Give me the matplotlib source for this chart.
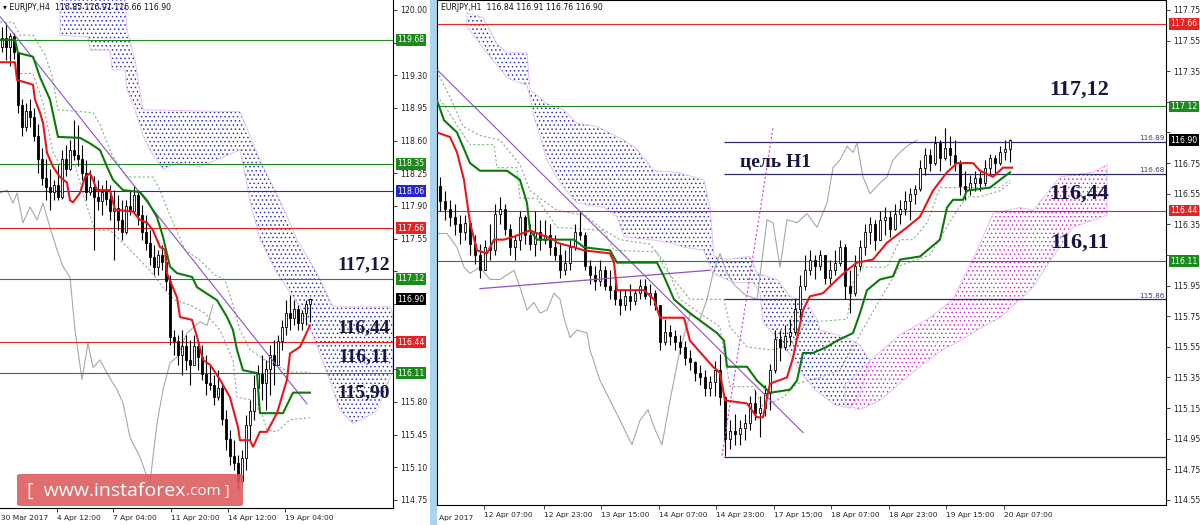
import matplotlib
matplotlib.use("Agg")
import matplotlib.pyplot as plt
import matplotlib.transforms as mtransforms
from matplotlib.patches import Rectangle, FancyBboxPatch

plt.rcParams['font.family'] = ['DejaVu Sans']
plt.rcParams['hatch.linewidth'] = 0.55

# ---------------- EURJPY H4 (left) ----------------
h4_first_open = 119.60
h4_high = [119.82, 119.86, 119.75, 119.75, 119.55, 119.05, 119.00, 119.05, 118.95, 118.78,
           118.52, 118.40, 118.30, 118.18, 118.34, 118.50, 118.55, 118.61, 118.82, 118.77,
           118.55, 118.39, 118.29, 118.22, 118.18, 118.12, 118.18, 118.12, 118.07, 118.02,
           117.96, 117.96, 118.07, 118.12, 118.07, 117.91, 117.80, 117.64, 117.48, 117.43,
           117.48, 117.37, 117.16, 116.57, 116.52, 116.57, 116.52, 116.46, 116.52, 116.46,
           116.41, 116.30, 116.20, 116.09, 116.14, 115.98, 115.71, 115.50, 115.39, 115.23,
           115.29, 115.66, 115.82, 116.09, 116.20, 116.30, 116.25, 116.41, 116.46, 116.52,
           116.68, 116.89, 116.95, 116.89, 116.84, 116.79, 116.89, 116.91]
h4_low = [119.55, 119.46, 119.40, 119.48, 118.90, 118.65, 118.70, 118.75, 118.60, 118.25,
          118.12, 117.96, 117.86, 117.96, 117.96, 117.98, 118.22, 118.29, 118.39, 118.33,
          118.18, 117.96, 118.02, 117.43, 117.86, 117.80, 117.91, 117.75, 117.32, 117.64,
          117.54, 117.60, 117.80, 117.82, 117.70, 117.54, 117.43, 117.27, 117.16, 117.16,
          117.21, 117.00, 116.41, 116.30, 116.20, 116.09, 116.14, 115.98, 116.20, 116.14,
          116.04, 115.88, 115.93, 115.77, 115.82, 115.55, 115.29, 115.12, 115.07, 114.86,
          114.92, 115.07, 115.39, 115.61, 115.77, 115.82, 115.71, 115.88, 115.98, 116.20,
          116.36, 116.52, 116.57, 116.63, 116.57, 116.57, 116.63, 116.66]
h4_close = [119.70, 119.60, 119.72, 119.55, 118.98, 118.75, 118.92, 118.85, 118.65, 118.40,
            118.20, 118.10, 118.05, 118.12, 118.00, 118.40, 118.30, 118.50, 118.45, 118.40,
            118.25, 118.05, 118.10, 118.00, 117.95, 118.05, 117.98, 117.85, 117.88, 117.75,
            117.62, 117.90, 117.85, 118.02, 117.80, 117.62, 117.50, 117.35, 117.25, 117.38,
            117.30, 117.10, 116.50, 116.45, 116.30, 116.40, 116.25, 116.20, 116.40, 116.28,
            116.10, 116.00, 115.98, 115.85, 115.95, 115.62, 115.40, 115.22, 115.15, 114.95,
            115.20, 115.55, 115.70, 115.95, 116.10, 116.00, 116.15, 116.30, 116.20, 116.45,
            116.60, 116.75, 116.70, 116.80, 116.65, 116.75, 116.85, 116.90]

h4_tenkan_x = [-0.5, 3.25, 3.75, 7.75, 8.25, 9.5, 10.25, 11.25, 12.75, 14.5, 16.25, 17, 17.75, 19.5,
               20.75, 22, 22.75, 23.75, 27, 28.25, 32.75, 34.5, 36.25, 37.75, 39.5, 40.75, 41.25,
               43.75, 44.5, 47.5, 48.75, 50.25, 52, 54.5, 57, 59, 59.5, 62, 62.75, 64.5, 66.25,
               68.75, 71.25, 72, 74.5, 77]
h4_tenkan_y = [119.44, 119.44, 119.25, 119.20, 119.04, 118.90, 118.79, 118.47, 118.32, 118.21,
               118.15, 117.96, 117.94, 118.04, 118.21, 118.25, 118.18, 118.07, 118.07, 117.86,
               117.84, 117.75, 117.72, 117.64, 117.46, 117.43, 117.18, 116.92, 116.71, 116.68,
               116.50, 116.25, 116.20, 116.04, 115.85, 115.53, 115.39, 115.39, 115.32, 115.48,
               115.48, 115.68, 116.04, 116.32, 116.39, 116.62]
h4_kijun_x = [-0.5, 3.25, 4, 7.75, 9.5, 12, 14, 19.5, 22, 24.5, 26.25, 27.75, 30.25, 34.5, 36.25,
              38.75, 40.25, 42, 43.75, 47.5, 48.75, 53.75, 56.25, 57.75, 58.75, 60.25, 63.75, 64,
              64.5, 70.25, 72.75, 77]
h4_kijun_y = [119.68, 119.68, 119.54, 119.50, 119.28, 119.04, 118.64, 118.63, 118.57, 118.50,
              118.32, 118.18, 118.07, 118.05, 117.96, 117.78, 117.57, 117.25, 117.18, 117.14,
              117.03, 116.89, 116.71, 116.57, 116.36, 116.14, 116.11, 115.96, 115.68, 115.68,
              115.90, 115.90]
h4_chikou_x = [-0.5, 1.25, 2.75, 3.75, 5.25, 7, 8.75, 10.25, 12, 13.75, 15.25, 17, 18.25, 20, 21.5,
               22.75, 24.5, 26.25, 28.75, 30.25, 32, 34.5, 36.25, 37, 37.75, 38.75, 40.25, 42,
               43.75, 46.25, 49.5, 51.25, 52.75]
h4_chikou_y = [118.04, 118.07, 117.93, 118.04, 117.72, 117.89, 117.75, 117.93, 117.67, 117.43,
               117.25, 117.14, 116.57, 116.04, 116.43, 116.17, 116.25, 116.11, 115.93, 115.79,
               115.42, 115.21, 115.00, 114.94, 115.21, 115.57, 115.93, 116.22, 116.28, 116.54,
               116.66, 116.62, 116.84]
h4_dash_a_x = [-0.5, 2.75, 4.5, 7.75, 10.75, 12.5, 14, 22.75, 24.5, 27.5, 31.25, 37.75, 39.5, 42,
               45.75, 49.5, 53.25, 55.75, 57.75, 59.5, 62, 65.75, 72, 77]
h4_dash_a_y = [119.87, 119.87, 119.73, 119.73, 119.52, 119.30, 118.93, 118.90, 118.77, 118.45,
               118.21, 118.21, 118.07, 117.80, 117.43, 117.32, 117.16, 117.11, 116.84, 116.57,
               116.36, 116.25, 116.12, 116.12]
h4_dash_b_x = [4.5, 7.75, 10.25, 12.75, 14.5, 18.25, 20.75, 23.25, 27, 32, 37, 40.75, 43.25, 47,
               50.75, 54.5, 57.75, 58.75, 62.75, 65.25, 66.25, 68.75, 72, 77]
h4_dash_b_y = [119.32, 119.32, 119.00, 118.47, 118.34, 118.34, 117.96, 117.64, 117.64, 117.43,
               117.21, 117.00, 116.89, 116.84, 116.75, 116.57, 116.25, 115.85, 115.82, 115.64,
               115.50, 115.48, 115.61, 115.63]
h4_trend_x = [-0.5, 76.25]
h4_trend_y = [119.93, 115.78]
h4_kumo_top_x = [14.5, 30.75, 31.25, 33.25, 35.25, 59.5, 64.5, 69.5, 73.75, 78.75, 82.75, 97, 97.75]
h4_kumo_top_y = [120.16, 120.16, 119.79, 119.46, 118.93, 118.91, 118.39, 117.96, 117.54, 117.18,
                 116.82, 116.82, 116.73]
h4_kumo_bot_x = [14.5, 21.5, 22, 27, 27.5, 30.75, 31.25, 33.25, 35.25, 37, 40.25, 43.75, 49.5,
                 59.5, 62, 64.5, 68.75, 74.5, 78.25, 81.25, 84.5, 87.75, 90.75, 93.75, 97.75]
h4_kumo_bot_y = [119.73, 119.71, 119.57, 119.57, 119.36, 119.36, 119.14, 118.93, 118.66, 118.50,
                 118.29, 118.36, 118.32, 118.50, 117.96, 117.54, 117.18, 116.82, 116.46, 116.11,
                 115.71, 115.57, 115.63, 115.71, 116.14]
h4_levels = [119.68, 118.35, 118.06, 117.66, 117.12, 116.44, 116.11]
h4_level_colors = ['green', 'green', 'blue', 'red', 'green', 'red', 'green']
h4_yticks = [120.00, 119.65, 119.30, 118.95, 118.60, 118.25, 117.90, 117.55, 117.20, 116.85,
             116.50, 116.15, 115.80, 115.45, 115.10, 114.75]
h4_hidden_ticks = [119.65, 117.20, 116.85, 116.50, 116.15]
h4_xtick_pos = [13.75, 27.75, 42.25, 56.5, 70.75]
h4_xtick_lab = ['4 Apr 12:00', '7 Apr 04:00', '11 Apr 20:00', '14 Apr 12:00', '19 Apr 04:00']
h4_notes = ['117,12', '116,44', '116,11', '115,90']
h4_note_y = [117.27, 116.60, 116.29, 115.90]

# ---------------- EURJPY H1 (right) ----------------
h1_first_open = 116.60
h1_high = [116.66, 116.57, 116.51, 116.48, 116.41, 116.41, 116.35, 116.28, 116.22, 116.25,
           116.35, 116.48, 116.53, 116.48, 116.35, 116.28, 116.44, 116.41, 116.35, 116.44,
           116.38, 116.38, 116.35, 116.28, 116.22, 116.18, 116.25, 116.35, 116.44, 116.30,
           116.12, 116.08, 116.12, 116.08, 116.05, 115.99, 115.92, 115.92, 115.96, 115.92,
           115.99, 115.99, 115.96, 115.92, 115.82, 115.73, 115.69, 115.66, 115.63, 115.59,
           115.53, 115.46, 115.43, 115.40, 115.36, 115.46, 115.50, 115.23, 115.07, 115.11,
           115.07, 115.11, 115.23, 115.27, 115.23, 115.30, 115.44, 115.66, 115.66, 115.69,
           115.73, 115.86, 116.02, 116.15, 116.18, 116.15, 116.18, 116.15, 116.12, 116.18,
           116.25, 116.22, 116.05, 116.15, 116.25, 116.35, 116.40, 116.38, 116.44, 116.46,
           116.44, 116.48, 116.51, 116.57, 116.59, 116.61, 116.77, 116.85, 116.84, 116.93,
           116.90, 116.98, 116.93, 116.90, 116.77, 116.70, 116.67, 116.70, 116.70, 116.77,
           116.81, 116.80, 116.86, 116.90, 116.91]
h1_low = [116.44, 116.38, 116.34, 116.28, 116.22, 116.25, 116.15, 116.09, 116.00, 116.05,
          116.12, 116.15, 116.35, 116.28, 116.15, 116.12, 116.18, 116.22, 116.18, 116.14,
          116.18, 116.22, 116.15, 116.12, 116.00, 116.02, 116.05, 116.18, 116.25, 116.05,
          115.96, 115.92, 115.95, 115.92, 115.86, 115.82, 115.76, 115.79, 115.79, 115.82,
          115.86, 115.86, 115.82, 115.79, 115.53, 115.56, 115.56, 115.53, 115.50, 115.43,
          115.40, 115.33, 115.30, 115.23, 115.23, 115.23, 115.17, 114.84, 114.88, 114.91,
          114.91, 114.94, 115.01, 115.07, 114.96, 115.10, 115.14, 115.38, 115.46, 115.53,
          115.56, 115.63, 115.73, 115.92, 116.02, 115.99, 116.05, 115.96, 115.96, 116.02,
          116.08, 115.86, 115.77, 115.88, 116.05, 116.15, 116.22, 116.18, 116.25, 116.28,
          116.27, 116.31, 116.35, 116.41, 116.38, 116.48, 116.57, 116.67, 116.70, 116.74,
          116.70, 116.77, 116.74, 116.70, 116.54, 116.51, 116.54, 116.57, 116.57, 116.60,
          116.67, 116.67, 116.74, 116.77, 116.76]
h1_close = [116.50, 116.45, 116.40, 116.35, 116.30, 116.36, 116.22, 116.15, 116.05, 116.20,
            116.18, 116.42, 116.45, 116.32, 116.20, 116.25, 116.40, 116.28, 116.22, 116.30,
            116.25, 116.28, 116.20, 116.15, 116.05, 116.10, 116.20, 116.30, 116.28, 116.08,
            116.02, 115.98, 116.05, 115.95, 115.92, 115.86, 115.82, 115.88, 115.85, 115.90,
            115.95, 115.88, 115.90, 115.82, 115.58, 115.65, 115.62, 115.58, 115.55, 115.48,
            115.45, 115.38, 115.35, 115.28, 115.32, 115.40, 115.22, 114.95, 115.00, 114.98,
            115.02, 115.05, 115.18, 115.12, 115.15, 115.25, 115.40, 115.60, 115.55, 115.62,
            115.65, 115.80, 115.95, 116.05, 116.12, 116.08, 116.15, 116.00, 116.05, 116.10,
            116.20, 115.95, 115.90, 116.08, 116.20, 116.30, 116.35, 116.25, 116.38, 116.40,
            116.32, 116.42, 116.45, 116.50, 116.55, 116.58, 116.72, 116.80, 116.75, 116.88,
            116.78, 116.85, 116.80, 116.75, 116.60, 116.58, 116.62, 116.65, 116.62, 116.72,
            116.78, 116.75, 116.82, 116.84, 116.90]

h1_tenkan_x = [-0.6, 2, 3.4, 4.8, 6, 7.4, 9.4, 10.8, 12.8, 14.8, 18, 22.8, 23.4, 26.8, 28.8, 34,
               34.8, 35.4, 40.8, 42.8, 44, 48.8, 50, 54.6, 56, 57, 61.4, 63.4, 64.6, 66, 69.4,
               70.6, 72.6, 74, 76.6, 79.4, 81.4, 83.4, 86.6, 89.4, 93.4, 96, 98.6, 101.4, 103.4,
               106.6, 108, 110.6, 112.6, 114.4]
h1_tenkan_y = [116.95, 116.92, 116.82, 116.64, 116.36, 116.18, 116.16, 116.25, 116.25, 116.27,
               116.31, 116.25, 116.23, 116.20, 116.18, 116.16, 116.10, 115.92, 115.92, 115.86,
               115.74, 115.74, 115.59, 115.42, 115.38, 115.20, 115.18, 115.09, 115.09, 115.31,
               115.35, 115.48, 115.79, 115.88, 115.90, 115.99, 116.05, 116.10, 116.12, 116.23,
               116.33, 116.40, 116.57, 116.69, 116.75, 116.75, 116.70, 116.66, 116.72, 116.72]
h1_kijun_x = [-0.6, 0.8, 3.4, 6, 8, 13.4, 16, 17.4, 18, 19.4, 26.8, 28.8, 34, 35.4, 43.4, 44.8,
              46.8, 50, 55.4, 56.8, 57.4, 61.4, 63.4, 66, 70, 71.4, 72.6, 74.6, 77.4, 79.4, 82.6,
              84, 85.4, 88, 90.6, 92, 96, 100, 101.4, 102.6, 104.6, 105.4, 110, 112, 114]
h1_kijun_y = [117.16, 117.03, 116.95, 116.75, 116.70, 116.70, 116.64, 116.49, 116.31, 116.25,
              116.25, 116.20, 116.18, 116.10, 116.10, 116.01, 115.86, 115.77, 115.64, 115.59,
              115.42, 115.42, 115.33, 115.25, 115.27, 115.33, 115.51, 115.51, 115.55, 115.59,
              115.64, 115.77, 115.92, 115.99, 116.01, 116.12, 116.14, 116.25, 116.46, 116.51,
              116.51, 116.57, 116.59, 116.64, 116.69]
h1_chikou_x = [-0.6, 1.4, 3.4, 4.8, 6, 8, 10, 12, 14.8, 16, 17.4, 18.8, 20, 21.4, 22.8, 24, 24.8,
               26, 27.4, 29.4, 30, 32, 34, 36, 38.4, 40, 41.6, 43, 44.4, 46, 48, 50, 52, 53.4,
               54.6, 56, 57.4, 59, 61, 63.4, 65.4, 66.6, 68, 69.4, 71.4, 73.4, 75.4, 77.4, 78.6,
               80, 81.4, 82.6, 83.4, 84.6, 86, 88, 89.4, 90.6, 92, 93.4, 95.4]
h1_chikou_y = [116.29, 116.29, 116.20, 116.07, 116.03, 116.07, 115.99, 115.99, 116.05, 115.94,
               115.79, 115.84, 115.77, 115.79, 115.90, 115.86, 115.74, 115.61, 115.66, 115.64,
               115.53, 115.33, 115.20, 115.07, 114.91, 115.07, 115.14, 115.01, 114.91, 115.20,
               115.53, 115.76, 115.73, 115.86, 116.03, 116.16, 116.03, 115.95, 115.89, 115.86,
               116.38, 116.36, 116.07, 116.38, 116.36, 116.42, 116.33, 116.49, 116.72, 116.77,
               116.86, 116.82, 116.88, 116.66, 116.55, 116.62, 116.66, 116.77, 116.82, 116.86,
               116.90]
h1_dash_a_x = [-0.6, 1.4, 3.4, 6, 10.8, 11.4, 15.4, 16, 19.4, 23.4, 32.8, 34.8, 43.4, 44.8, 50,
               56.8, 58, 61.4, 66, 70, 73.4, 81.4, 82.6, 84.6, 89.4, 92, 94.6, 97.4, 100, 112, 114]
h1_dash_a_y = [117.19, 117.10, 117.00, 116.87, 116.87, 116.72, 116.72, 116.52, 116.52, 116.33,
               116.31, 116.18, 116.17, 116.07, 115.86, 115.86, 115.68, 115.55, 115.53, 115.55,
               115.71, 115.73, 115.97, 116.07, 116.07, 116.25, 116.25, 116.36, 116.59, 116.59,
               116.64]
h1_dash_b_x = [-0.6, 2, 4.6, 8, 12, 16, 18, 23.4, 29, 32, 36, 42, 45, 48, 56, 58, 62.6, 64.6,
               68.6, 71.4, 76, 80, 84, 88, 92, 98, 102.6, 105.4, 108, 112, 114]
h1_dash_b_y = [117.35, 117.18, 116.99, 116.93, 116.90, 116.74, 116.57, 116.44, 116.41, 116.33,
               116.25, 116.22, 116.10, 115.86, 115.68, 115.29, 115.29, 115.16, 115.22, 115.31,
               115.35, 115.40, 115.63, 115.86, 116.08, 116.15, 116.40, 116.53, 116.53, 116.57,
               116.62]
h1_trend_x = [-0.6, 72.6]
h1_trend_y = [117.36, 114.99]
h1_flat_x = [8, 54]
h1_flat_y = [115.93, 116.05]
h1_pink_x = [56.4, 66.6]
h1_pink_y = [114.84, 116.98]
h1_blue_top_x = [5.4, 8.6, 11.4, 13.4, 17.4, 18, 21.4, 24.6, 27.4, 31.4, 36.8, 39.4, 42.8, 47.4,
                 52.8, 54, 54.8, 57.4, 62, 63.4, 67.4, 70, 73.4, 75.4, 76, 81.4, 84, 86]
h1_blue_top_y = [117.73, 117.70, 117.53, 117.47, 117.47, 117.23, 117.14, 117.10, 117.01, 116.99,
                 116.90, 116.84, 116.70, 116.69, 116.64, 116.46, 116.14, 116.12, 116.14, 116.03,
                 115.99, 115.88, 115.84, 115.73, 115.66, 115.61, 115.56, 115.46]
h1_blue_bot_x = [5.4, 8, 10.6, 13.4, 14.6, 17.4, 19, 21.4, 24, 27.4, 32.8, 35.4, 36.8, 42, 46,
                 48.8, 52.8, 53.4, 54.6, 58.6, 62.6, 64, 64.6, 70, 72, 75, 79, 82, 84]
h1_blue_bot_y = [117.64, 117.53, 117.42, 117.31, 117.29, 117.26, 117.03, 116.77, 116.62, 116.49,
                 116.46, 116.40, 116.27, 116.25, 116.23, 116.20, 116.18, 116.12, 116.03, 115.97,
                 115.97, 115.90, 115.71, 115.50, 115.39, 115.27, 115.17, 115.15, 115.24]
h1_pink_top_x = [81, 86, 92, 98, 102.6, 107.4, 110.6, 116, 118.6, 124, 130.6, 133.4]
h1_pink_top_y = [115.30, 115.46, 115.63, 115.74, 115.86, 116.18, 116.42, 116.46, 116.44, 116.66,
                 116.69, 116.74]
h1_pink_bot_x = [81, 84, 88, 94, 100, 104, 108, 112, 116, 118.6, 122.6, 126.6, 133.4]
h1_pink_bot_y = [115.17, 115.14, 115.20, 115.37, 115.52, 115.59, 115.67, 115.74, 115.86, 115.94,
                 116.14, 116.33, 116.41]
h1_levels = [117.66, 117.12, 116.44, 116.11]
h1_level_colors = ['red', 'green', 'red', 'green']
h1_targets = [116.89, 116.68, 115.86, 114.83]
h1_target_labels = ['116.89', '116.68', '115.86', '']
h1_target_start = 56.8
h1_yticks = [117.75, 117.55, 117.35, 117.15, 116.95, 116.75, 116.55, 116.35, 116.15, 115.95,
             115.75, 115.55, 115.35, 115.15, 114.95, 114.75, 114.55]
h1_hidden_ticks = [117.15, 116.95, 116.15]
h1_xtick_pos = [8.8, 20.8, 32.2, 43.8, 55.2, 66.8, 78.2, 89.8, 101.2, 112.8]
h1_xtick_lab = ['12 Apr 07:00', '12 Apr 23:00', '13 Apr 15:00', '14 Apr 07:00', '14 Apr 23:00',
                '17 Apr 15:00', '18 Apr 07:00', '18 Apr 23:00', '19 Apr 15:00', '20 Apr 07:00']
h1_notes = ['117,12', '116,44', '116,11']
h1_note_y = [117.23, 116.55, 116.23]

last_price = 116.90

COL = {'green': '#1c8a1c', 'red': '#e42424', 'blue': '#2626cc', 'black': '#000000'}
NAVY = '#16163e'
W, H = 1200, 525


def draw_candles(ax, first_open, close, high, low, width):
    opens = [first_open] + close[:-1]
    xs = list(range(len(close)))
    ax.vlines(xs, low, high, color='black', lw=0.8, zorder=3)
    bottoms = [min(o, c) for o, c in zip(opens, close)]
    heights = [max(abs(c - o), 0.006) for o, c in zip(opens, close)]
    faces = ['white' if c > o else 'black' for o, c in zip(opens, close)]
    ax.bar(xs, heights, width, bottom=bottoms, color=faces, edgecolor='black',
           linewidth=0.6, zorder=3)


def draw_kumo(ax, tx, ty, bx, by, dots):
    px = tx + bx[::-1]
    py = ty + by[::-1]
    ax.fill(px, py, facecolor='none', edgecolor=dots, hatch='....', linewidth=0, zorder=1)
    ax.plot(px + px[:1], py + py[:1], color='#e6c2f0', lw=0.7, zorder=1)


def tag(ax, y, text, color, dx):
    tr = mtransforms.blended_transform_factory(ax.transAxes, ax.transData)
    ax.text(1 + dx, y, text, transform=tr, ha='left', va='center', fontsize=5.6,
            color='white', bbox=dict(boxstyle='square,pad=0.18', fc=color, ec='none'),
            clip_on=False, zorder=10)


def style_axes(ax, yticks, hidden, xpos, xlab):
    ax.yaxis.tick_right()
    ax.set_yticks(yticks)
    ax.set_yticklabels(['' if v in hidden else f'{v:.2f}' for v in yticks])
    ax.tick_params(axis='y', direction='out', length=3, width=0.6, labelsize=5.6, pad=2,
                   colors='#222222')
    ax.set_xticks(xpos)
    ax.set_xticklabels(xlab)
    for lbl in ax.get_xticklabels():
        lbl.set_horizontalalignment('left')
    ax.tick_params(axis='x', direction='out', length=3, width=0.6, labelsize=5.4, pad=2,
                   colors='#222222')
    for s in ax.spines.values():
        s.set_linewidth(0.8)


fig = plt.figure(figsize=(12, 5.25), dpi=100)
fig.patch.set_facecolor('white')

# ---- left chart ----
ax1 = fig.add_axes([0, 17 / H, 393 / W, 508 / H])
ax1.set_xlim(-0.5, 97.75)
ax1.set_ylim(114.664, 120.107)
draw_kumo(ax1, h4_kumo_top_x, h4_kumo_top_y, h4_kumo_bot_x, h4_kumo_bot_y, '#2a2ab8')
ax1.plot(h4_chikou_x, h4_chikou_y, color='#a8a8a8', lw=0.8, zorder=2)
ax1.plot(h4_dash_a_x, h4_dash_a_y, color='#7dbb7d', lw=0.8, ls=(0, (2, 2)), zorder=2)
ax1.plot(h4_dash_b_x, h4_dash_b_y, color='#a0a0a0', lw=0.8, ls=(0, (2, 2)), zorder=2)
for lv, c in zip(h4_levels, h4_level_colors):
    ax1.axhline(lv, color=COL[c], lw=0.8, zorder=2)
draw_candles(ax1, h4_first_open, h4_close, h4_high, h4_low, 0.55)
ax1.plot(h4_trend_x, h4_trend_y, color='#9050c8', lw=0.8, zorder=4)
ax1.plot(h4_kijun_x, h4_kijun_y, color='#0b7a0b', lw=1.5, zorder=5)
ax1.plot(h4_tenkan_x, h4_tenkan_y, color='#e8161b', lw=1.5, zorder=5)
style_axes(ax1, h4_yticks, h4_hidden_ticks, h4_xtick_pos, h4_xtick_lab)
ax1.spines['top'].set_visible(False)
ax1.spines['left'].set_visible(False)
for lv, c in zip(h4_levels, h4_level_colors):
    tag(ax1, lv, f'{lv:.2f}', COL[c], 4 / 393)
tag(ax1, last_price, f'{last_price:.2f}', 'black', 4 / 393)
for t, y in zip(h4_notes, h4_note_y):
    ax1.text(97.0, y, t, ha='right', va='center', fontsize=14, fontweight='bold',
             family='Liberation Serif', color=NAVY, zorder=8)

# ---- right chart ----
ax2 = fig.add_axes([437 / W, 20 / H, 729 / W, 505 / H])
ax2.set_xlim(-0.6, 145.2)
ax2.set_ylim(114.517, 117.815)
draw_kumo(ax2, h1_blue_top_x, h1_blue_top_y, h1_blue_bot_x, h1_blue_bot_y, '#2a2ab8')
draw_kumo(ax2, h1_pink_top_x, h1_pink_top_y, h1_pink_bot_x, h1_pink_bot_y, '#d02ad0')
ax2.plot(h1_chikou_x, h1_chikou_y, color='#a8a8a8', lw=0.8, zorder=2)
ax2.plot(h1_dash_a_x, h1_dash_a_y, color='#7dbb7d', lw=0.8, ls=(0, (2, 2)), zorder=2)
ax2.plot(h1_dash_b_x, h1_dash_b_y, color='#a0a0a0', lw=0.8, ls=(0, (2, 2)), zorder=2)
for lv, c in zip(h1_levels, h1_level_colors):
    ax2.axhline(lv, color=COL[c], lw=0.8, zorder=2)
ax2.hlines(h1_targets, h1_target_start, 145.2, color='#2e2e66', lw=0.9, zorder=2)
draw_candles(ax2, h1_first_open, h1_close, h1_high, h1_low, 0.55)
ax2.plot(h1_trend_x, h1_trend_y, color='#9050c8', lw=0.8, zorder=4)
ax2.plot(h1_flat_x, h1_flat_y, color='#9050c8', lw=0.9, zorder=4)
ax2.plot(h1_pink_x, h1_pink_y, color='#d040d0', lw=0.8, ls=(0, (2, 2)), zorder=4)
ax2.plot(h1_kijun_x, h1_kijun_y, color='#0b7a0b', lw=1.5, zorder=5)
ax2.plot(h1_tenkan_x, h1_tenkan_y, color='#e8161b', lw=1.5, zorder=5)
style_axes(ax2, h1_yticks, h1_hidden_ticks, h1_xtick_pos, h1_xtick_lab)
for lv, c in zip(h1_levels, h1_level_colors):
    tag(ax2, lv, f'{lv:.2f}', COL[c], 4 / 729)
tag(ax2, last_price, f'{last_price:.2f}', 'black', 4 / 729)
for v, t in zip(h1_targets, h1_target_labels):
    ax2.text(145.0, v + 0.005, t, ha='right', va='bottom', fontsize=5.2, color='#3a3a8a',
             zorder=6)
for t, y in zip(h1_notes, h1_note_y):
    ax2.text(133.8, y, t, ha='right', va='center', fontsize=16, fontweight='bold',
             family='Liberation Serif', color=NAVY, zorder=8)
ax2.text(60.0, 116.73, 'цель H1', ha='left', va='baseline', fontsize=14, fontweight='bold',
         family='Liberation Serif', color=NAVY, zorder=8)

# ---- frame decorations ----
fig.add_artist(Rectangle((430 / W, 0), 7 / W, 1, transform=fig.transFigure,
                         facecolor='#a9d3ef', edgecolor='none', zorder=0))
fig.text(3 / W, 1 - 8 / H, '\u25be EURJPY,H4  116.85 116.91 116.66 116.90', fontsize=5.6,
         va='center', ha='left', color='#111111')
fig.text(441 / W, 1 - 8 / H, 'EURJPY,H1  116.84 116.91 116.76 116.90', fontsize=5.6,
         va='center', ha='left', color='#111111')
fig.text(1 / W, 1 - 518 / H, '30 Mar 2017', fontsize=5.4, va='center', ha='left',
         color='#222222')
fig.text(439 / W, 1 - 518 / H, 'Apr 2017', fontsize=5.4, va='center', ha='left',
         color='#222222')

fig.add_artist(FancyBboxPatch((17 / W, 1 - 506 / H), 226 / W, 32 / H,
                              boxstyle='round,pad=0,rounding_size=0.003',
                              transform=fig.transFigure, facecolor='#dd5a5a',
                              edgecolor='none', alpha=0.88, zorder=20))
fig.text(27 / W, 1 - 491 / H, '[  www.instaforex', fontsize=14, family='Open Sans',
         color='white', va='center', ha='left', zorder=21)
fig.text(186 / W, 1 - 492 / H, '.com ]', fontsize=11, family='Open Sans',
         color='white', va='center', ha='left', zorder=21)

fig.savefig('out.png', dpi=100)
